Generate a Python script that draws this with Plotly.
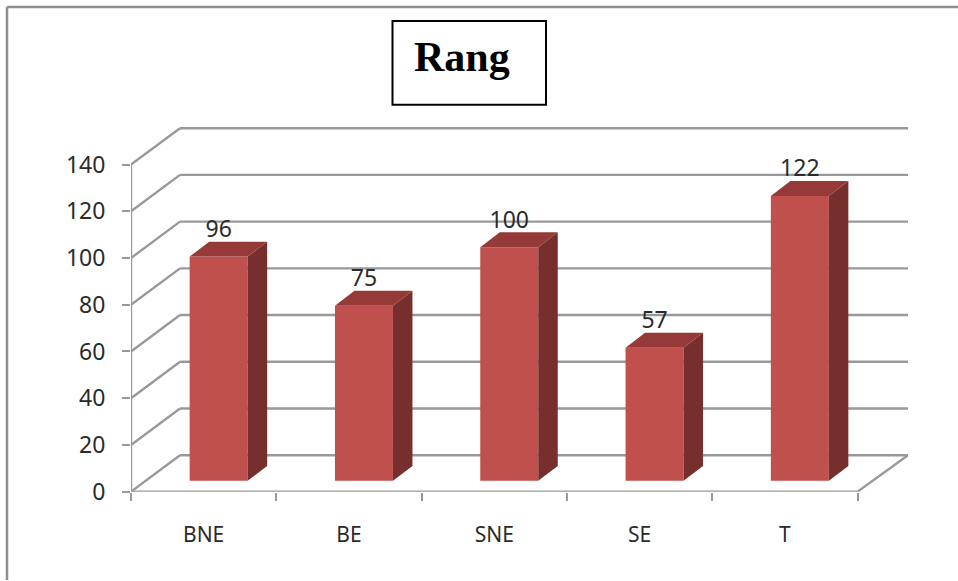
import plotly.graph_objects as go

# Chart content
categories = ["BNE", "BE", "SNE", "SE", "T"]
values = [96, 75, 100, 57, 122]
y_ticks = [0, 20, 40, 60, 80, 100, 120, 140]
title_text = "Rang"

# Palette
FRONT = "#C0504D"
SIDE = "#772F2D"
TOP = "#953A38"
GRID = "#999999"
INK = "#2B2B2B"

# Canvas size and the vertical factor applied to every pixel position below
W = 958
VS = 581 / 567
H = 581 * VS


def py(pixels):
    return pixels * VS


PLOT_LEFT, PLOT_RIGHT = 131, 908
PLOT_BOTTOM, PLOT_TOP = py(492.5), py(127)
PX_PER_SLOT = 145.3
PX_PER_UNIT = py(2.34)

x_max = (PLOT_RIGHT - PLOT_LEFT) / PX_PER_SLOT
y_max = (PLOT_BOTTOM - PLOT_TOP) / PX_PER_UNIT
n = len(categories)

# Oblique projection offsets, expressed in axis units
wall_dx = 49 / PX_PER_SLOT
wall_dy = py(36.5) / PX_PER_UNIT
bar_dx = 15 / PX_PER_SLOT
bar_base = py(10.8) / PX_PER_UNIT
bar_width = 58 / PX_PER_SLOT
depth_dx = 19.5 / PX_PER_SLOT
depth_dy = py(15) / PX_PER_UNIT
label_gap = py(25.5) / PX_PER_UNIT


def line(x0, y0, x1, y1, width=2.4, color=GRID):
    return dict(type="line", xref="x", yref="y", x0=x0, y0=y0, x1=x1, y1=y1,
                layer="below", line=dict(color=color, width=width))


shapes = []
# Slanted side-wall segments and the horizontal lines on the back wall
for tick in y_ticks:
    shapes.append(line(0, tick, wall_dx, tick + wall_dy))
    shapes.append(line(wall_dx, tick + wall_dy, x_max, tick + wall_dy))
# Floor edge and the two front axes
shapes.append(line(x_max, wall_dy, n, 0))
shapes.append(line(0, 0, n, 0))
shapes.append(line(0, 0, 0, max(y_ticks)))
# Page frame on the left and top
shapes.append(dict(type="line", xref="paper", yref="paper", x0=7 / W, x1=7 / W, y0=0, y1=1 - py(7) / H,
                   line=dict(color="#8E8E8E", width=2.5)))
shapes.append(dict(type="line", xref="paper", yref="paper", x0=7 / W, x1=1, y0=1 - py(7) / H, y1=1 - py(7) / H,
                   line=dict(color="#8E8E8E", width=2.5)))
# Title box
shapes.append(dict(type="rect", xref="paper", yref="paper",
                   x0=392.5 / W, x1=546 / W, y0=1 - py(105) / H, y1=1 - py(21) / H,
                   line=dict(color="#000000", width=2), fillcolor="#FFFFFF"))

centers = [i + 0.5 + bar_dx for i in range(n)]

fig = go.Figure()
fig.add_trace(go.Bar(
    x=centers, y=values, base=bar_base, width=bar_width,
    marker=dict(color=FRONT, line=dict(width=0)),
    hoverinfo="skip",
))

# Right and top faces of each bar
for cx, v in zip(centers, values):
    left, right = cx - bar_width / 2, cx + bar_width / 2
    low, high = bar_base, bar_base + v
    fig.add_trace(go.Scatter(
        x=[right, right + depth_dx, right + depth_dx, right, right],
        y=[low, low + depth_dy, high + depth_dy, high, low],
        mode="lines", fill="toself", fillcolor=SIDE, line=dict(width=0), hoverinfo="skip",
    ))
    fig.add_trace(go.Scatter(
        x=[left, left + depth_dx, right + depth_dx, right, left],
        y=[high, high + depth_dy, high + depth_dy, high, high],
        mode="lines", fill="toself", fillcolor=TOP, line=dict(width=0), hoverinfo="skip",
    ))

# Value labels above the bars
fig.add_trace(go.Scatter(
    x=centers,
    y=[bar_base + v + label_gap for v in values],
    mode="text",
    text=[str(v) for v in values],
    textposition="middle center",
    textfont=dict(family="Noto Sans", size=23, color=INK),
    hoverinfo="skip",
))

fig.update_layout(
    width=W, height=H,
    autosize=False,
    margin=dict(l=0, r=0, t=0, b=0, pad=0),
    paper_bgcolor="#FFFFFF", plot_bgcolor="#FFFFFF",
    showlegend=False,
    shapes=shapes,
    annotations=[dict(
        text=f"<b>{title_text}</b>", xref="paper", yref="paper",
        x=461.5 / W, y=1 - py(57.5) / H, xanchor="center", yanchor="middle", showarrow=False,
        font=dict(family="Liberation Serif", size=42, color="#000000"),
    )],
    xaxis=dict(
        domain=[PLOT_LEFT / W, PLOT_RIGHT / W],
        range=[0, x_max],
        tickmode="array",
        tickvals=[i + 0.5 for i in range(n)],
        ticktext=categories,
        ticks="",
        ticklabelstandoff=28,
        tickfont=dict(family="Noto Sans", size=21, color=INK),
        showgrid=False, zeroline=False, showline=False,
        minor=dict(tickmode="array", tickvals=list(range(n + 1)), ticks="outside",
                   ticklen=8, tickwidth=2, tickcolor=GRID, showgrid=False),
    ),
    yaxis=dict(
        domain=[1 - PLOT_BOTTOM / H, 1 - PLOT_TOP / H],
        range=[0, y_max],
        tickmode="array",
        tickvals=y_ticks,
        ticks="outside", ticklen=8, tickwidth=2, tickcolor=GRID,
        ticklabelstandoff=12,
        tickfont=dict(family="Noto Sans", size=23, color=INK),
        showgrid=False, zeroline=False, showline=False,
    ),
)

fig.write_html("out.html", config=dict(displayModeBar=False))
